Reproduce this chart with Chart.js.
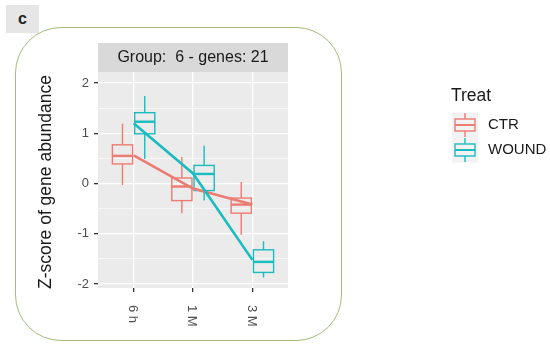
<!DOCTYPE html>
<html>
<head>
<meta charset="utf-8">
<script src="https://cdn.jsdelivr.net/npm/chart.js@4"></script>
<style>
  body { margin: 0; background: #fff; }
  #wrap { position: relative; width: 550px; height: 347px; }
  #tag { position: absolute; left: 6px; top: 5px; width: 33px; height: 28px; background: #e6e6e6;
         font: bold 16px "Liberation Sans", Arial, sans-serif; color: #222; text-align: center; line-height: 27px; }
  #frame { position: absolute; left: 15px; top: 27px; width: 325px; height: 312px;
           border: 1.5px solid #a3bd78; border-radius: 46px; }
  canvas { position: absolute; left: 0; top: 0; }
</style>
</head>
<body>
<div id="wrap">
  <div id="tag">c</div>
  <div id="frame"></div>
  <canvas id="boxChart" width="550" height="347"></canvas>
</div>
<script>
// data
var times = ['6 h', '1 M', '3 M'];
var groups = ['CTR', 'WOUND'];
var stripText = 'Group:  6 - genes: 21';

var ctrMin = [-0.03, -0.59, -1.02];
var ctrQ1 = [0.39, -0.34, -0.59];
var ctrMed = [0.55, -0.06, -0.42];
var ctrQ3 = [0.77, 0.11, -0.29];
var ctrMax = [1.19, 0.53, 0.03];
var ctrMean = [0.56, -0.10, -0.42];

var woundMin = [0.49, -0.34, -1.87];
var woundQ1 = [0.99, -0.14, -1.77];
var woundMed = [1.23, 0.19, -1.56];
var woundQ3 = [1.41, 0.36, -1.32];
var woundMax = [1.74, 0.75, -1.15];
var woundMean = [1.20, 0.20, -1.52];

var colors = ['#ec7b72', '#1bbcbf'];
var FONT = '"Liberation Sans", Arial, sans-serif';

var boxes = [
  {min: ctrMin, q1: ctrQ1, med: ctrMed, q3: ctrQ3, max: ctrMax, off: -0.1875},
  {min: woundMin, q1: woundQ1, med: woundMed, q3: woundQ3, max: woundMax, off: 0.1875}
];

function pts(arr) {
  return arr.map(function(v, i) { return {x: i, y: v}; });
}

function isMajor(v) { return Math.abs(v - Math.round(v)) < 1e-6; }

// panel background, strip, boxplots, rotated labels, legend
var ggPlugin = {
  id: 'gg',
  beforeDraw: function(chart) {
    var a = chart.chartArea, ctx = chart.ctx;
    ctx.save();
    ctx.fillStyle = '#ebebeb';
    ctx.fillRect(a.left, a.top, a.right - a.left, a.bottom - a.top);
    ctx.fillStyle = '#d9d9d9';
    ctx.fillRect(a.left, 43, a.right - a.left, a.top - 43);
    ctx.fillStyle = '#1a1a1a';
    ctx.font = '16px ' + FONT;
    ctx.textAlign = 'center';
    ctx.textBaseline = 'middle';
    ctx.fillText(stripText, (a.left + a.right) / 2, 58);
    ctx.restore();
  },
  beforeDatasetsDraw: function(chart) {
    var x = chart.scales.x, y = chart.scales.y, ctx = chart.ctx;
    ctx.save();
    boxes.forEach(function(b, g) {
      ctx.strokeStyle = colors[g];
      for (var j = 0; j < times.length; j++) {
        var cx = x.getPixelForValue(j + b.off);
        var hw = x.getPixelForValue(j + b.off + 0.17) - cx;
        var yMin = y.getPixelForValue(b.min[j]), yQ1 = y.getPixelForValue(b.q1[j]);
        var yMed = y.getPixelForValue(b.med[j]), yQ3 = y.getPixelForValue(b.q3[j]);
        var yMax = y.getPixelForValue(b.max[j]);
        ctx.lineWidth = 1.4;
        ctx.beginPath();
        ctx.moveTo(cx, yQ3); ctx.lineTo(cx, yMax);
        ctx.moveTo(cx, yQ1); ctx.lineTo(cx, yMin);
        ctx.stroke();
        ctx.strokeRect(cx - hw, yQ3, 2 * hw, yQ1 - yQ3);
        ctx.lineWidth = 2.4;
        ctx.beginPath();
        ctx.moveTo(cx - hw, yMed); ctx.lineTo(cx + hw, yMed);
        ctx.stroke();
      }
    });
    ctx.restore();
  },
  afterDraw: function(chart) {
    var a = chart.chartArea, x = chart.scales.x, ctx = chart.ctx;
    ctx.save();
    // x tick labels, rotated clockwise
    ctx.fillStyle = '#4d4d4d';
    ctx.font = '13px ' + FONT;
    ctx.textAlign = 'left';
    ctx.textBaseline = 'middle';
    times.forEach(function(t, j) {
      ctx.save();
      ctx.translate(x.getPixelForValue(j) - 1, a.bottom + 17);
      ctx.rotate(Math.PI / 2);
      ctx.fillText(t, 0, 0);
      ctx.restore();
    });
    // y title
    ctx.fillStyle = '#1a1a1a';
    ctx.font = '17.5px ' + FONT;
    ctx.textAlign = 'center';
    ctx.save();
    ctx.translate(46, 182);
    ctx.rotate(-Math.PI / 2);
    ctx.fillText('Z-score of gene abundance', 0, 0);
    ctx.restore();
    // legend
    ctx.textAlign = 'left';
    ctx.font = '17.5px ' + FONT;
    ctx.fillText('Treat', 451, 96);
    ctx.font = '15px ' + FONT;
    groups.forEach(function(name, g) {
      var cy = 125 + g * 25;
      ctx.fillStyle = '#f2f2f2';
      ctx.fillRect(452, cy - 12.5, 26, 25);
      ctx.strokeStyle = colors[g];
      ctx.lineWidth = 1.4;
      ctx.beginPath();
      ctx.moveTo(465, cy - 12); ctx.lineTo(465, cy - 6);
      ctx.moveTo(465, cy + 6); ctx.lineTo(465, cy + 12);
      ctx.stroke();
      ctx.strokeRect(455, cy - 6, 20, 12);
      ctx.lineWidth = 2;
      ctx.beginPath();
      ctx.moveTo(455, cy); ctx.lineTo(475, cy);
      ctx.stroke();
      ctx.fillStyle = '#1a1a1a';
      ctx.fillText(name, 488, cy);
    });
    ctx.restore();
  }
};

new Chart('boxChart', {
  type: 'line',
  data: {
    datasets: [
      {
        label: 'WOUND',
        data: pts(woundMean),
        borderColor: colors[1],
        borderWidth: 2.6,
        pointRadius: 0,
        fill: false,
        order: 0
      },
      {
        label: 'CTR',
        data: pts(ctrMean),
        borderColor: colors[0],
        borderWidth: 2.6,
        pointRadius: 0,
        fill: false,
        order: 1
      }
    ]
  },
  options: {
    responsive: false,
    animation: false,
    devicePixelRatio: 1,
    layout: { padding: { left: 0, top: 72, right: 262, bottom: 0 } },
    plugins: { legend: { display: false }, tooltip: { enabled: false } },
    scales: {
      x: {
        type: 'linear',
        min: -0.6,
        max: 2.6,
        afterFit: function(s) { s.height = 59; },
        border: { display: false },
        grid: { color: '#ffffff', lineWidth: 1.3, tickColor: '#333333', tickLength: 4 },
        ticks: { stepSize: 1, includeBounds: false, display: false }
      },
      y: {
        min: -2.08,
        max: 2.22,
        afterFit: function(s) { s.width = 98; },
        border: { display: false },
        grid: {
          color: '#ffffff',
          lineWidth: function(c) { return isMajor(c.tick.value) ? 1.3 : 0.6; },
          tickColor: function(c) { return isMajor(c.tick.value) ? '#333333' : 'rgba(0,0,0,0)'; },
          tickLength: 4
        },
        ticks: {
          stepSize: 0.5,
          includeBounds: false,
          autoSkip: false,
          padding: 5,
          color: '#4d4d4d',
          font: { family: FONT, size: 13 },
          callback: function(v) { return isMajor(v) ? String(Math.round(v)) : ''; }
        }
      }
    }
  },
  plugins: [ggPlugin]
});
</script>
</body>
</html>
